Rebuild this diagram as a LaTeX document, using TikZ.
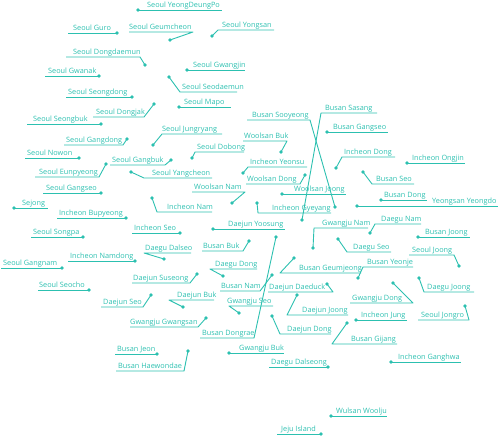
\documentclass[tikz,border=0pt]{standalone}
\usepackage{fontspec}
\setmainfont{Open Sans}
\definecolor{tealc}{HTML}{2CC0B0}
\newcommand\placelabel[7]{%
  \node[dotn] (#1d) at (#5) {};
  \node[lbltext] (#1) at (#2,#3-2.4) {#4};
  \coordinate (#1a) at (#6,#3);
  \coordinate (#1b) at (#7,#3);
  \draw[lead] (#1d.center) -- (#1a) -- (#1b);
}
\begin{document}
\begin{tikzpicture}[x=1bp,y=-1bp,
  dotn/.style={circle,fill=tealc,inner sep=0pt,minimum size=3.9bp},
  lbltext/.style={anchor=base west,inner sep=0pt,text=tealc,font=\fontsize{7.3bp}{8bp}\selectfont},
  lead/.style={draw=tealc,line width=0.9bp,line join=round}]
\useasboundingbox (0,0) rectangle (499,437);
\placelabel{a1}{147}{10}{Seoul YeongDeungPo}{138,10}{138}{222}
\placelabel{a2}{73}{33}{Seoul Guro}{117,33}{117}{68}
\placelabel{a3}{129}{32}{Seoul Geumcheon}{170,40}{193}{129}
\placelabel{a4}{222}{30}{Seoul Yongsan}{212,36}{218}{274}
\placelabel{a5}{73}{57}{Seoul Dongdaemun}{145,65}{140}{66}
\placelabel{a6}{193}{70}{Seoul Gwangjin}{187,70}{187}{245}
\placelabel{a7}{48}{76}{Seoul Gwanak}{99,76}{99}{45}
\placelabel{a8}{182}{92}{Seoul Seodaemun}{169,77}{180}{237}
\placelabel{a9}{68}{97}{Seoul Seongdong}{132,97}{132}{66}
\placelabel{a10}{184}{107}{Seoul Mapo}{179,107}{179}{231}
\placelabel{a11}{96}{117}{Seoul Dongjak}{154,104}{144}{93}
\placelabel{a12}{33}{124}{Seoul Seongbuk}{101,124}{101}{27}
\placelabel{a13}{162}{134}{Seoul Jungryang}{153,145}{162}{222}
\placelabel{a14}{66}{145}{Seoul Gangdong}{127,139}{123}{64}
\placelabel{a15}{197}{152}{Seoul Dobong}{192,158}{195}{244}
\placelabel{a16}{325}{113}{Busan Sasang}{302,220}{321}{377}
\placelabel{a17}{252}{120}{Busan Sooyeong}{335,207}{310}{247}
\placelabel{a18}{333}{132}{Busan Gangseo}{327,132}{327}{388}
\placelabel{a19}{244}{141}{Woolsan Buk}{281,152}{287}{243}
\placelabel{a20}{250}{167}{Incheon Yeonsu}{243,173}{248}{307}
\placelabel{a21}{247}{184}{Woolsan Dong}{305,175}{300}{246}
\placelabel{a22}{194}{192}{Woolsan Nam}{232,203}{245}{192}
\placelabel{a23}{294}{194}{Woolsan Joong}{282,194}{282}{346}
\placelabel{a24}{152}{178}{Seoul Yangcheon}{131,172}{144}{212}
\placelabel{a25}{112}{165}{Seoul Gangbuk}{171,160}{165}{110}
\placelabel{a26}{27}{158}{Seoul Nowon}{79,158}{79}{25}
\placelabel{a27}{39}{177}{Seoul Eunpyeong}{106,164}{99}{35}
\placelabel{a28}{46}{193}{Seoul Gangseo}{101,193}{101}{43}
\placelabel{a29}{22}{208}{Sejong}{14,208}{14}{48}
\placelabel{a30}{167}{212}{Incheon Nam}{152,198}{157}{212}
\placelabel{a31}{59}{218}{Incheon Bupyeong}{126,218}{126}{57}
\placelabel{a32}{134}{233}{Incheon Seo}{180,233}{180}{132}
\placelabel{a33}{33}{237}{Seoul Songpa}{83,237}{83}{31}
\placelabel{a34}{228}{229}{Daejun Yoosung}{213,229}{213}{285}
\placelabel{a35}{203}{251}{Busan Buk}{249,241}{243}{202}
\placelabel{a36}{145}{253}{Daegu Dalseo}{164,259}{144}{191}
\placelabel{a37}{70}{261}{Incheon Namdong}{135,261}{135}{68}
\placelabel{a38}{3}{268}{Seoul Gangnam}{62,268}{62}{1}
\placelabel{a39}{215}{269}{Daegu Dong}{223,276}{210}{257}
\placelabel{a40}{133}{283}{Daejun Suseong}{197,274}{190}{132}
\placelabel{a41}{39}{290}{Seoul Seocho}{89,290}{89}{38}
\placelabel{a42}{221}{291}{Busan Nam}{272,275}{260}{220}
\placelabel{a43}{103}{307}{Daejun Seo}{151,295}{143}{101}
\placelabel{a44}{177}{300}{Daejun Buk}{183,307}{169}{214}
\placelabel{a45}{227}{306}{Gwangju Seo}{239,313}{229}{273}
\placelabel{a46}{130}{327}{Gwangju Gwangsan}{206,318}{198}{130}
\placelabel{a47}{269}{292}{Daejun Daeduck}{327,284}{333}{268}
\placelabel{a48}{299}{273}{Busan Geumjeong}{294,258}{280}{361}
\placelabel{a49}{367}{267}{Busan Yeonje}{358,278}{363}{413}
\placelabel{a50}{302}{315}{Daejun Joong}{297,295}{287}{348}
\placelabel{a51}{287}{334}{Daejun Dong}{272,316}{280}{331}
\placelabel{a52}{202}{338}{Busan Dongrae}{276,237}{254}{200}
\placelabel{a53}{117}{354}{Busan Jeon}{157,354}{157}{115}
\placelabel{a54}{118}{371}{Busan Haewondae}{188,351}{184}{116}
\placelabel{a55}{239}{353}{Gwangju Buk}{229,353}{229}{284}
\placelabel{a56}{271}{367}{Daegu Dalseong}{328,367}{328}{269}
\placelabel{a57}{336}{416}{Wulsan Woolju}{331,416}{331}{387}
\placelabel{a58}{281}{434}{Jeju Island}{321,434}{321}{277}
\placelabel{a59}{398}{362}{Incheon Ganghwa}{391,362}{391}{461}
\placelabel{a60}{351}{344}{Busan Gijang}{347,323}{332}{397}
\placelabel{a61}{361}{320}{Incheon Jung}{356,320}{356}{407}
\placelabel{a62}{421}{320}{Seoul Jongro}{465,306}{469}{418}
\placelabel{a63}{352}{303}{Gwangju Dong}{393,283}{413}{350}
\placelabel{a64}{427}{292}{Daegu Joong}{419,278}{424}{474}
\placelabel{a65}{412}{255}{Seoul Joong}{459,266}{454}{409}
\placelabel{a66}{425}{237}{Busan Joong}{418,237}{418}{470}
\placelabel{a67}{353}{252}{Daegu Seo}{338,239}{347}{391}
\placelabel{a68}{322}{228}{Gwangju Nam}{313,248}{314}{368}
\placelabel{a69}{381}{224}{Daegu Nam}{370,233}{375}{421}
\placelabel{a70}{384}{200}{Busan Dong}{381,200}{381}{427}
\placelabel{a71}{432}{206}{Yeongsan Yeongdo}{357,206}{357}{498}
\placelabel{a72}{376}{184}{Busan Seo}{363,172}{372}{414}
\placelabel{a73}{344}{157}{Incheon Dong}{336,168}{342}{395}
\placelabel{a74}{412}{163}{Incheon Ongjin}{407,163}{407}{465}
\placelabel{a75}{272}{213}{Incheon Gyeyang}{257,203}{258}{331}
\end{tikzpicture}
\end{document}
